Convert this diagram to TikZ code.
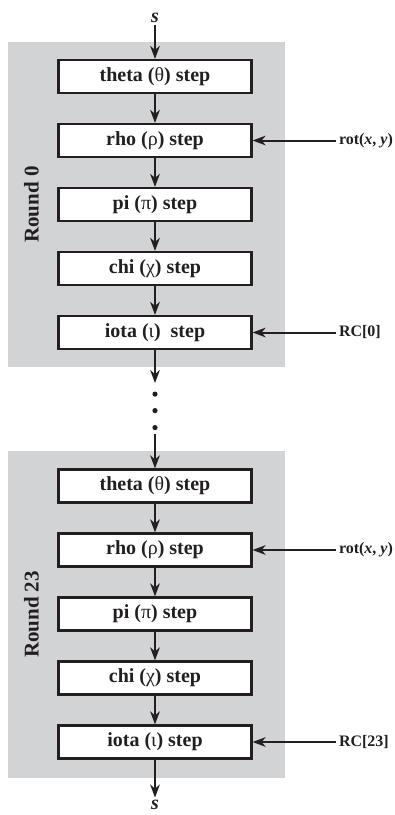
\documentclass[tikz,border=0pt]{standalone}
\usepackage{fontspec}
\setmainfont{Liberation Serif}
\usepackage{xcolor}
\definecolor{roundGray}{HTML}{D1D3D4}
\definecolor{lineBlack}{HTML}{231F20}
\usepackage{tikz}
\usetikzlibrary{
    arrows.meta,
    positioning,
    calc,
    fit,
    backgrounds
}
\tikzset{
    % Step boxes - white rectangle with black frame
    stepbox/.style={
        rectangle,
        draw=lineBlack,
        fill=white,
        line width=1.1pt,
        minimum width=96.5pt,
        minimum height=16.5pt,
        inner sep=0pt,
        text=lineBlack,
        font=\fontsize{10}{12}\selectfont\bfseries,
    },
    % Gray panel behind one round
    roundbg/.style={
        rectangle,
        fill=roundGray,
        draw=none,
        inner sep=0pt,
    },
    % Rotated round caption
    roundlabel/.style={
        rotate=90,
        text=lineBlack,
        font=\fontsize{10.5}{12}\selectfont\bfseries,
    },
    % Side inputs (rotation offsets, round constants)
    inputlabel/.style={
        text=lineBlack,
        inner sep=1.5pt,
        font=\fontsize{8}{10}\selectfont\bfseries,
    },
    % State in / out
    statelabel/.style={
        text=lineBlack,
        inner sep=1pt,
        font=\fontsize{10}{12}\selectfont\bfseries\itshape,
    },
    % Plain black arrow
    arrow/.style={
        -{Stealth[length=6.5pt, width=4.8pt, inset=2pt]},
        line width=1pt,
        draw=lineBlack,
    },
    % Ellipsis dots between the rounds
    dotmark/.style={
        circle,
        fill=lineBlack,
        inner sep=0pt,
        minimum size=2.6pt,
    },
}

\begin{document}
\begin{tikzpicture}[node distance=32pt]
    \useasboundingbox (0,0) rectangle (197.5pt,-407.5pt);

    % Round 0
    \node (theta0) [stepbox] at (77.5pt,-38.25pt) {theta ({\mdseries θ}) step};
    \node (rho0) [stepbox, below of=theta0] {rho ({\mdseries ρ}) step};
    \node (pi0) [stepbox, below of=rho0] {pi ({\mdseries π}) step};
    \node (chi0) [stepbox, below of=pi0] {chi ({\mdseries χ}) step};
    \node (iota0) [stepbox, below of=chi0] {iota ({\mdseries ι})\ \ step};

    % Round 23
    \node (theta23) [stepbox, below of=iota0, node distance=76.75pt] {theta ({\mdseries θ}) step};
    \node (rho23) [stepbox, below of=theta23] {rho ({\mdseries ρ}) step};
    \node (pi23) [stepbox, below of=rho23] {pi ({\mdseries π}) step};
    \node (chi23) [stepbox, below of=pi23] {chi ({\mdseries χ}) step};
    \node (iota23) [stepbox, below of=chi23] {iota ({\mdseries ι}) step};

    % gray panels
    \coordinate (bg0tl) at ($(theta0.north west)+(-24.75pt,8.5pt)$);
    \coordinate (bg0br) at ($(iota0.south east)+(16pt,-8.5pt)$);
    \coordinate (bg23tl) at ($(theta23.north west)+(-24.75pt,8.5pt)$);
    \coordinate (bg23br) at ($(iota23.south east)+(16pt,-9pt)$);
    \begin{scope}[on background layer]
        \node (bg0) [roundbg, fit=(bg0tl)(bg0br)] {};
        \node (bg23) [roundbg, fit=(bg23tl)(bg23br)] {};
    \end{scope}
    \node (round0) [roundlabel] at ($(bg0.west)+(12pt,0)$) {Round 0};
    \node (round23) [roundlabel] at ($(bg23.west)+(12pt,0)$) {Round 23};

    % state in and out
    \node (sin) [statelabel, above=17pt of theta0] {s};
    \node (sout) [statelabel, below=19pt of iota23] {s};

    % side inputs
    \node (rot0) [inputlabel, right=41.5pt of rho0] {rot(\textit{x}, \textit{y})};
    \node (rc0) [inputlabel, right=41.5pt of iota0] {RC[0]};
    \node (rot23) [inputlabel, right=41.5pt of rho23] {rot(\textit{x}, \textit{y})};
    \node (rc23) [inputlabel, right=41.5pt of iota23] {RC[23]};

    % dots between the rounds
    \coordinate (gapA) at ($(iota0.south)+(0,-16.5pt)$);
    \node (dotA) [dotmark] at ($(iota0.south)+(0,-22pt)$) {};
    \node (dotB) [dotmark] at ($(iota0.south)+(0,-30.25pt)$) {};
    \node (dotC) [dotmark] at ($(iota0.south)+(0,-38.75pt)$) {};
    \coordinate (gapB) at ($(theta23.north)+(0,17.25pt)$);

    \draw [arrow] (sin) -- (theta0);
    \draw [arrow] (theta0) -- (rho0);
    \draw [arrow] (rho0) -- (pi0);
    \draw [arrow] (pi0) -- (chi0);
    \draw [arrow] (chi0) -- (iota0);
    \draw [arrow] (iota0) -- (gapA);
    \draw [arrow] (gapB) -- (theta23);
    \draw [arrow] (theta23) -- (rho23);
    \draw [arrow] (rho23) -- (pi23);
    \draw [arrow] (pi23) -- (chi23);
    \draw [arrow] (chi23) -- (iota23);
    \draw [arrow] (iota23) -- (sout);

    \draw [arrow] (rot0) -- (rho0);
    \draw [arrow] (rc0) -- (iota0);
    \draw [arrow] (rot23) -- (rho23);
    \draw [arrow] (rc23) -- (iota23);
\end{tikzpicture}
\end{document}
